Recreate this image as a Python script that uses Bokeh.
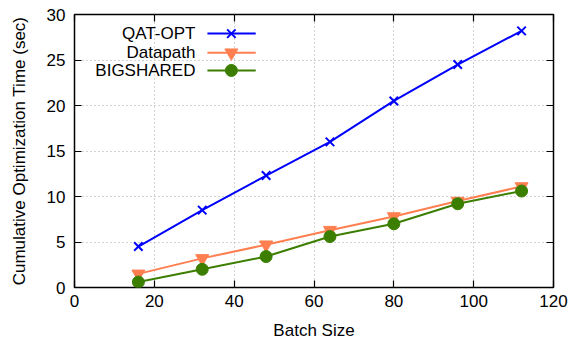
from bokeh.plotting import figure
from bokeh.models import Range1d, LinearAxis, FixedTicker, Label
from bokeh.embed import file_html
from bokeh.resources import INLINE

batch = [16, 32, 48, 64, 80, 96, 112]
qat_opt = [4.5, 8.5, 12.3, 16.0, 20.5, 24.5, 28.2]
datapath = [1.5, 3.2, 4.7, 6.3, 7.8, 9.5, 11.1]
bigshared = [0.6, 2.0, 3.4, 5.6, 7.0, 9.2, 10.6]
series_names = ["QAT-OPT", "Datapath", "BIGSHARED"]
x_ticks = [0, 20, 40, 60, 80, 100, 120]
y_ticks = [0, 5, 10, 15, 20, 25, 30]

BLUE = "#0000ff"
ORANGE = "#ff7f50"
GREEN = "#3c7f00"
FONT = "Liberation Sans"
FS = "17px"

p = figure(width=573, height=345, output_backend="svg", toolbar_location=None,
           x_range=Range1d(0, 120), y_range=Range1d(0, 30),
           min_border_left=74, min_border_right=20, min_border_top=14, min_border_bottom=58)
p.background_fill_color = "white"
p.border_fill_color = "white"
p.outline_line_color = "black"
p.outline_line_width = 1.5

for ax in [p.xaxis[0], p.yaxis[0]]:
    ax.major_tick_in = 7
    ax.major_tick_out = 0
    ax.minor_tick_line_color = None
    ax.axis_line_color = None
    ax.major_tick_line_color = "black"
    ax.major_tick_line_width = 1.2
    ax.major_label_text_font = FONT
    ax.major_label_text_font_size = FS
    ax.major_label_text_color = "black"
    ax.axis_label_text_font = FONT
    ax.axis_label_text_font_size = FS
    ax.axis_label_text_font_style = "normal"
    ax.axis_label_text_color = "black"

p.xaxis[0].ticker = FixedTicker(ticks=x_ticks)
p.yaxis[0].ticker = FixedTicker(ticks=y_ticks)
p.xaxis[0].axis_label = "Batch Size"
p.yaxis[0].axis_label = "Cumulative Optimization Time (sec)"
p.xaxis[0].major_label_standoff = 7
p.yaxis[0].major_label_standoff = 9
p.xaxis[0].axis_label_standoff = 11
p.yaxis[0].axis_label_standoff = 15

# mirrored tick axes (no labels)
ra = LinearAxis(ticker=FixedTicker(ticks=y_ticks),
                major_label_overrides={t: "" for t in y_ticks},
                major_tick_in=7, major_tick_out=0, minor_tick_line_color=None,
                axis_line_color=None, major_tick_line_width=1.2, major_label_standoff=0)
ta = LinearAxis(ticker=FixedTicker(ticks=x_ticks),
                major_label_overrides={t: "" for t in x_ticks},
                major_tick_in=7, major_tick_out=0, minor_tick_line_color=None,
                axis_line_color=None, major_tick_line_width=1.2, major_label_standoff=0)
p.add_layout(ra, "right")
p.add_layout(ta, "above")

p.xgrid.ticker = FixedTicker(ticks=x_ticks)
p.ygrid.ticker = FixedTicker(ticks=y_ticks)
for g in [p.xgrid[0], p.ygrid[0]]:
    g.grid_line_color = "#a8a8a8"
    g.grid_line_dash = "1 3"
    g.grid_line_width = 1

p.line(batch, qat_opt, line_color=BLUE, line_width=2)
p.scatter(batch, qat_opt, marker="x", size=12, line_color=BLUE, line_width=2)
p.line(batch, datapath, line_color=ORANGE, line_width=2)
p.scatter(batch, datapath, marker="inverted_triangle", size=13, fill_color=ORANGE, line_color=ORANGE)
p.line(batch, bigshared, line_color=GREEN, line_width=2)
p.scatter(batch, bigshared, marker="circle", size=12, fill_color=GREEN, line_color=GREEN)

# legend (gnuplot style: right-aligned label, sample on the right)
leg_x0, leg_x1, leg_xm = 33.3, 45.4, 39.3
leg_rows = [27.9, 25.8, 23.85]
colors = [BLUE, ORANGE, GREEN]
markers = ["x", "inverted_triangle", "circle"]
msizes = [12, 13, 12]
for name, yy, c, m, s in zip(series_names, leg_rows, colors, markers, msizes):
    p.line([leg_x0, leg_x1], [yy, yy], line_color=c, line_width=2)
    if m == "x":
        p.scatter([leg_xm], [yy], marker=m, size=s, line_color=c, line_width=2)
    else:
        p.scatter([leg_xm], [yy], marker=m, size=s, fill_color=c, line_color=c)
    p.add_layout(Label(x=30.3, y=yy, text=name, text_align="right", text_baseline="middle",
                       text_font=FONT, text_font_size=FS, text_color="black"))

open("out.html", "w").write(file_html(p, INLINE))
